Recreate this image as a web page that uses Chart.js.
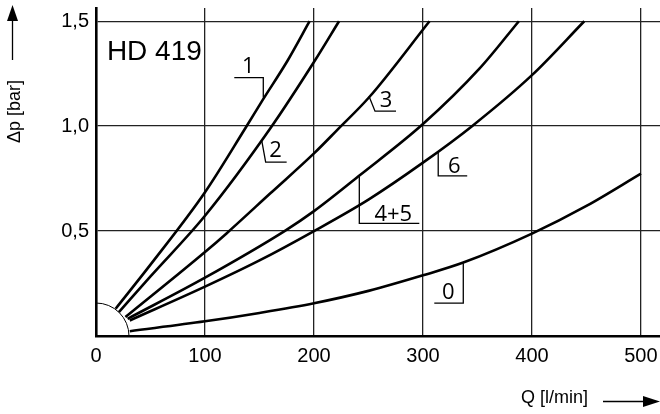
<!DOCTYPE html>
<html>
<head>
<meta charset="utf-8">
<script src="https://cdn.jsdelivr.net/npm/chart.js@4"></script>
<style>
  body { margin: 0; background: #fff; }
  #wrap { width: 660px; height: 414px; }
</style>
</head>
<body>
<div id="wrap"><canvas id="myChart" width="660" height="414"></canvas></div>
<script>
// HD 419 pressure drop curves: Q [l/min] -> dp [bar]
const curveNames = ['1', '2', '3', '4+5', '6', '0'];

const q1 = [18, 50, 100, 137, 153, 176, 196];
const dp1 = [0.13, 0.34, 0.685, 0.99, 1.125, 1.314, 1.5];

const q2 = [21, 50, 100, 160, 201, 223];
const dp2 = [0.114, 0.284, 0.573, 0.99, 1.314, 1.5];

const q3 = [27, 100, 120, 160, 200, 221, 251, 306];
const dp3 = [0.09, 0.40, 0.49, 0.68, 0.87, 0.98, 1.14, 1.5];

const q45 = [29, 100, 173, 200, 242, 300, 352, 388];
const dp45 = [0.082, 0.278, 0.5, 0.595, 0.766, 1.01, 1.275, 1.5];

const q6 = [31, 100, 150, 200, 250, 300, 345, 400, 448];
const dp6 = [0.074, 0.235, 0.36, 0.5, 0.65, 0.826, 1.0, 1.243, 1.5];

const q0 = [31, 100, 150, 200, 250, 300, 337, 400, 450, 500];
const dp0 = [0.023, 0.07, 0.11, 0.156, 0.215, 0.289, 0.35, 0.488, 0.62, 0.774];

const xTicks = [0, 100, 200, 300, 400, 500];
const yTicks = [0.5, 1.0, 1.5];

const curves = [[q1, dp1], [q2, dp2], [q3, dp3], [q45, dp45], [q6, dp6], [q0, dp0]];

// curve tags: anchor on the curve (data units), leader and text offsets in px
const tags = [
  { text: '1', q: 153.5, p: 1.136, leader: [[0, -20], [-29, -20]], tx: -15, ty: -31 },
  { text: '2', q: 152, p: 0.933, leader: [[4, 22], [25, 22]], tx: 14, ty: 11 },
  { text: '3', q: 250.5, p: 1.143, leader: [[6, 15], [27, 15]], tx: 17, ty: 5 },
  { text: '4+5', q: 241.6, p: 0.761, leader: [[0, 47], [60, 47]], tx: 34, ty: 38 },
  { text: '6', q: 314, p: 0.877, leader: [[0, 24], [29, 24]], tx: 16, ty: 15 },
  { text: '0', q: 337, p: 0.347, leader: [[0, 40], [-29, 40]], tx: -15, ty: 30 }
];

const sansFont = '"Liberation Sans", Arial, sans-serif';

const extras = {
  id: 'extras',
  afterDraw(chart) {
    const ctx = chart.ctx;
    const xs = chart.scales.x, ys = chart.scales.y;
    const x0 = xs.getPixelForValue(0), y0 = ys.getPixelForValue(0);
    ctx.save();
    ctx.strokeStyle = '#000';
    ctx.fillStyle = '#000';

    // quarter circle round the origin
    ctx.lineWidth = 1;
    ctx.beginPath();
    ctx.arc(x0, y0, 33, -Math.PI / 2, 0);
    ctx.stroke();

    // filter type
    ctx.font = '28px ' + sansFont;
    ctx.textAlign = 'left';
    ctx.textBaseline = 'alphabetic';
    ctx.fillText('HD 419', xs.getPixelForValue(10), ys.getPixelForValue(1.314));

    // curve tags
    ctx.font = '22px "Open Sans", sans-serif';
    ctx.textAlign = 'center';
    ctx.textBaseline = 'middle';
    ctx.lineWidth = 1.3;
    tags.forEach(t => {
      const px = xs.getPixelForValue(t.q), py = ys.getPixelForValue(t.p);
      ctx.beginPath();
      ctx.moveTo(px, py);
      t.leader.forEach(([dx, dy]) => ctx.lineTo(px + dx, py + dy));
      ctx.stroke();
      ctx.fillText(t.text, px + t.tx, py + t.ty);
    });

    // axis titles with arrows
    ctx.font = '18px ' + sansFont;
    ctx.textAlign = 'left';
    ctx.textBaseline = 'alphabetic';
    ctx.fillText('Q [l/min]', 521, 403);
    ctx.beginPath();
    ctx.moveTo(603, 401.5);
    ctx.lineTo(645, 401.5);
    ctx.stroke();
    ctx.beginPath();
    ctx.moveTo(643, 396);
    ctx.lineTo(660, 401.5);
    ctx.lineTo(643, 407);
    ctx.closePath();
    ctx.fill();

    ctx.save();
    ctx.translate(19.5, 143);
    ctx.rotate(-Math.PI / 2);
    ctx.fillText('\u0394p [bar]', 0, 0);
    ctx.restore();
    ctx.beginPath();
    ctx.moveTo(12.5, 60);
    ctx.lineTo(12.5, 18);
    ctx.stroke();
    ctx.beginPath();
    ctx.moveTo(7, 21);
    ctx.lineTo(12.5, 5);
    ctx.lineTo(18, 21);
    ctx.closePath();
    ctx.fill();

    ctx.restore();
  }
};

const ctx = document.getElementById('myChart').getContext('2d');

const myChart = new Chart(ctx, {
  type: 'line',
  data: {
    datasets: curves.map((c, i) => ({
      label: curveNames[i],
      data: c[0].map((q, j) => ({ x: q, y: c[1][j] })),
      borderColor: '#000',
      borderWidth: 2.6,
      pointRadius: 0,
      fill: false,
      cubicInterpolationMode: 'monotone'
    }))
  },
  options: {
    responsive: false,
    animation: false,
    layout: { padding: { top: 8, left: 0, right: 0, bottom: 0 } },
    plugins: {
      legend: { display: false },
      tooltip: { enabled: false }
    },
    scales: {
      x: {
        type: 'linear',
        min: 0,
        max: 517.5,
        afterBuildTicks: s => { s.ticks = xTicks.map(v => ({ value: v })); },
        afterFit: s => { s.height = 78; s.paddingLeft = 0; s.paddingRight = 0; },
        ticks: {
          color: '#000',
          padding: 8,
          font: { family: sansFont, size: 20 },
          callback: v => String(v)
        },
        grid: { color: '#222', lineWidth: 1.3, drawTicks: false },
        border: { color: '#000', width: 2.6 }
      },
      y: {
        type: 'linear',
        min: 0,
        max: 1.563,
        afterBuildTicks: s => { s.ticks = yTicks.map(v => ({ value: v })); },
        afterFit: s => { s.width = 96; s.paddingTop = 0; s.paddingBottom = 0; },
        ticks: {
          color: '#000',
          padding: 7,
          font: { family: sansFont, size: 20 },
          callback: v => v.toFixed(1).replace('.', ',')
        },
        grid: { color: '#222', lineWidth: 1.3, drawTicks: false },
        border: { color: '#000', width: 2.6 }
      }
    }
  },
  plugins: [extras]
});
</script>
</body>
</html>
